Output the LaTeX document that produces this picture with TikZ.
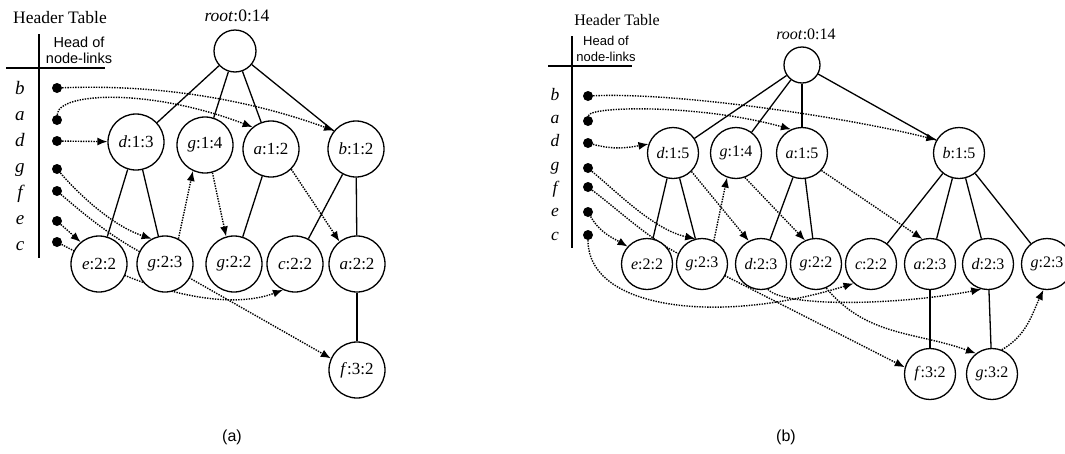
\documentclass[tikz,border=0pt]{standalone}
\usepackage{fontspec}
\setmainfont{Liberation Serif}
\setsansfont{Liberation Sans}
\usetikzlibrary{arrows.meta}
\pgfdeclarelayer{bg}
\pgfsetlayers{bg,main}
\tikzset{
  fpnode/.style={circle, draw, line width=1.3pt, fill=white, minimum size=56pt, inner sep=0pt, font=\fontsize{17}{17}\selectfont},
  fpnodeb/.style={fpnode, minimum size=51pt, font=\fontsize{16}{16}\selectfont},
  rootnode/.style={fpnode, minimum size=42pt},
  headdot/.style={circle, fill=black, minimum size=10pt, inner sep=0pt},
  link/.style={line width=1.4pt, dash pattern=on 1.4pt off 1.2pt, -{Latex[length=10pt,width=8pt]}},
  treeline/.style={line width=1.3pt},
  item/.style={font=\fontsize{19}{19}\selectfont\itshape, anchor=base},
  itemb/.style={font=\fontsize{17.5}{17.5}\selectfont\itshape, anchor=base},
  headtext/.style={font=\sffamily\fontsize{14.5}{14.5}\selectfont},
  headtextb/.style={font=\sffamily\fontsize{13}{13}\selectfont},
}
\begin{document}
\begin{tikzpicture}[x=1pt, y=-1pt]
    \useasboundingbox (0,0) rectangle (1065,453);

    % ---------------- (a) ----------------
    % Header table
    \node[font=\fontsize{17.5}{17.5}\selectfont] (hta) at (60,18) {Header Table};
    \draw[line width=2.2pt] (39,34) -- (39,258);
    \draw[line width=2.2pt] (6,68) -- (105,68);
    \node[headtext] (hoa1) at (79,42) {Head of};
    \node[headtext] (hoa2) at (79,58) {node-links};
    \foreach \ltr/\ypos in {b/94,a/120,d/146,g/172,f/198,e/224,c/250} {
        \node[item] (ita-\ltr) at (20,\ypos) {\ltr};
    }
    \foreach \ltr/\ypos in {b/88,a/120,d/141,g/169,f/191,e/221,c/242} {
        \node[headdot] (dota-\ltr) at (57,\ypos) {};
    }

    % Tree
    \node[rootnode] (roota) at (235,51) {};
    \node (roota-lab) at (237,16) {\fontsize{17.5}{17.5}\selectfont\textit{root}:0:14};
    \node[fpnode] (a-d13) at (136,142) {\textit{d}:1:3};
    \node[fpnode] (a-g14) at (205,145) {\textit{g}:1:4};
    \node[fpnode] (a-a12) at (271,149) {\textit{a}:1:2};
    \node[fpnode] (a-b12) at (356,149) {\textit{b}:1:2};
    \node[fpnode] (a-e22) at (99,264) {\textit{e}:2:2};
    \node[fpnode] (a-g23) at (165,264) {\textit{g}:2:3};
    \node[fpnode] (a-g22) at (234,264) {\textit{g}:2:2};
    \node[fpnode] (a-c22) at (295,264) {\textit{c}:2:2};
    \node[fpnode] (a-a22) at (357,264) {\textit{a}:2:2};
    \node[fpnode] (a-f32) at (357,370) {\textit{f}:3:2};

    \begin{pgfonlayer}{bg}
        % tree edges
        \foreach \chld in {a-d13,a-g14,a-a12,a-b12} {
            \draw[treeline] (roota) -- (\chld);
        }
        \draw[treeline] (a-d13) -- (a-e22);
        \draw[treeline] (a-d13) -- (a-g23);
        \draw[treeline] (a-a12) -- (a-g22);
        \draw[treeline] (a-b12) -- (a-c22);
        \draw[treeline] (a-b12) -- (a-a22);
        \draw[treeline] (a-a22) -- (a-f32);

        % node-links
        \draw[link] (dota-b) .. controls (160,84) and (250,100) .. (a-b12.140);
        \draw[link] (dota-a) .. controls (58,92) and (150,88) .. (a-a12.130);
        \draw[link] (dota-d) -- (a-d13);
        \draw[link] (dota-g) .. controls (75,190) and (110,225) .. (a-g23.118);
        \draw[link] (dota-f) .. controls (85,215) and (120,245) .. (a-g23.center) -- (a-f32.156);
        \draw[link] (dota-e) -- (a-e22.130);
        \draw[link] (dota-c) -- (a-e22.center) .. controls (170,298) and (235,308) .. (a-c22.245);
        \draw[link] (a-g23.62) -- (a-g14.245);
        \draw[link] (a-g14.285) -- (a-g22.106);
        \draw[link] (a-a12.315) -- (a-a22.128);
    \end{pgfonlayer}

    \node[font=\sffamily\fontsize{16}{16}\selectfont] (capa) at (232,437) {(a)};

    % ---------------- (b) ----------------
    % Header table
    \node[font=\fontsize{16}{16}\selectfont] (htb) at (617,20) {Header Table};
    \draw[line width=2.2pt] (572,36) -- (572,248);
    \draw[line width=2.2pt] (548,66) -- (632,66);
    \node[headtextb] (hob1) at (606,41) {Head of};
    \node[headtextb] (hob2) at (606,57) {node-links};
    \foreach \ltr/\ypos in {b/100,a/123.3,d/146.6,g/170,f/193.3,e/216.6,c/240} {
        \node[itemb] (itb-\ltr) at (555,\ypos) {\ltr};
    }
    \foreach \ltr/\ypos in {b/96,a/121,d/143,g/168,f/187,e/212,c/235} {
        \node[headdot] (dotb-\ltr) at (588,\ypos) {};
    }

    % Tree
    \node[rootnode, minimum size=36pt] (rootb) at (802,65) {};
    \node (rootb-lab) at (806,34) {\fontsize{16}{16}\selectfont\textit{root}:0:14};
    \node[fpnodeb] (b-d15) at (673,153) {\textit{d}:1:5};
    \node[fpnodeb] (b-g14) at (736,153) {\textit{g}:1:4};
    \node[fpnodeb] (b-a15) at (802,153) {\textit{a}:1:5};
    \node[fpnodeb] (b-b15) at (959,153) {\textit{b}:1:5};
    \node[fpnodeb] (b-e22) at (647,264) {\textit{e}:2:2};
    \node[fpnodeb] (b-g23) at (702,264) {\textit{g}:2:3};
    \node[fpnodeb] (b-d23) at (761,264) {\textit{d}:2:3};
    \node[fpnodeb] (b-g22) at (816,264) {\textit{g}:2:2};
    \node[fpnodeb] (b-c22) at (871,264) {\textit{c}:2:2};
    \node[fpnodeb] (b-a23) at (930,264) {\textit{a}:2:3};
    \node[fpnodeb] (b-d23r) at (988,264) {\textit{d}:2:3};
    \node[fpnodeb] (b-g23r) at (1047,264) {\textit{g}:2:3};
    \node[fpnodeb] (b-f32) at (930,374) {\textit{f}:3:2};
    \node[fpnodeb] (b-g32) at (992,374) {\textit{g}:3:2};

    \begin{pgfonlayer}{bg}
        % tree edges
        \foreach \chld in {b-d15,b-g14,b-a15,b-b15} {
            \draw[treeline] (rootb) -- (\chld);
        }
        \draw[treeline] (b-d15) -- (b-e22);
        \draw[treeline] (b-d15) -- (b-g23);
        \draw[treeline] (b-a15) -- (b-d23);
        \draw[treeline] (b-a15) -- (b-g22);
        \foreach \chld in {b-c22,b-a23,b-d23r,b-g23r} {
            \draw[treeline] (b-b15) -- (\chld);
        }
        \draw[treeline] (b-a23) -- (b-f32);
        \draw[treeline] (b-d23r) -- (b-g32);

        % node-links
        \draw[link] (dotb-b) .. controls (680,92) and (850,118) .. (b-b15.150);
        \draw[link] (dotb-a) .. controls (589,106) and (700,104) .. (b-a15.115);
        \draw[link] (dotb-d) to[out=-15,in=190] (b-d15.160);
        \draw[link] (dotb-g) .. controls (620,195) and (655,230) .. (b-g23.105);
        \draw[link] (dotb-f) .. controls (625,215) and (660,250) .. (b-g23.center) -- (b-f32.165);
        \draw[link] (dotb-e) to[out=-60,in=150] (b-e22.138);
        \draw[link] (dotb-c) .. controls (588,310) and (720,325) .. (b-c22.228);
        \draw[link] (b-g23.63) -- (b-g14.250);
        \draw[link] (b-g14.290) -- (b-g22.115);
        \draw[link] (b-d15.315) -- (b-d23.118);
        \draw[link] (b-a15.318) -- (b-a23.107);
        \draw[link] (b-d23.285) .. controls (785,308) and (900,305) .. (b-d23r.255);
        \draw[link] (b-g22.293) to[out=-50,in=160] (b-g32.128);
        \draw[link] (b-g32.68) to[out=30,in=245] (b-g23r.262);
    \end{pgfonlayer}

    \node[font=\sffamily\fontsize{16}{16}\selectfont] (capb) at (786,437) {(b)};
\end{tikzpicture}
\end{document}
